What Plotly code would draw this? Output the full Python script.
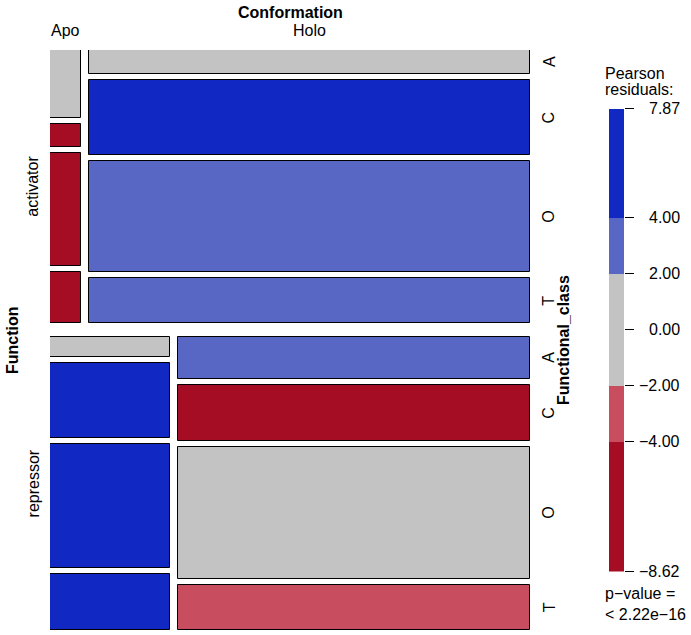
import plotly.graph_objects as go

# ---------------- data ----------------
functions = ["activator", "repressor"]
conformations = ["Apo", "Holo"]
classes = ["A", "C", "O", "T"]

# counts per Functional_class (A, C, O, T)
activator_apo = [12, 4, 20, 9]
activator_holo = [61, 190, 281, 114]
repressor_apo = [14, 51, 85, 38]
repressor_holo = [84, 113, 265, 91]

# Pearson residuals (estimated) per cell
activator_apo_res = [-1.3, -4.4, -6.9, -5.2]
activator_holo_res = [1.4, 7.87, 3.2, 2.7]
repressor_apo_res = [0.9, 6.6, 7.3, 5.8]
repressor_holo_res = [2.8, -8.62, 0.6, -2.6]

legend_breaks = [-8.62, -4.0, -2.0, 0.0, 2.0, 4.0, 7.87]
p_value_text = "< 2.22e\u221216"

# ---------------- style ----------------
W, H = 691, 635
FONT = "Liberation Sans"
C_DBLUE = "#1128C3"
C_MBLUE = "#5867C4"
C_GREY = "#C3C3C3"
C_LRED = "#C84E5F"
C_DRED = "#A50D25"


def shade(r):
    if r > 4:
        return C_DBLUE
    if r > 2:
        return C_MBLUE
    if r >= -2:
        return C_GREY
    if r >= -4:
        return C_LRED
    return C_DRED


# plot area in pixels
PX0, PX1 = 50, 530
PY0, PY1 = 50, 630
GAP_ROW = 13.4 / (PY1 - PY0)
GAP_COL = 8.5 / (PX1 - PX0)
GAP_CLASS = 5.8 / (PY1 - PY0)

counts = [[activator_apo, activator_holo], [repressor_apo, repressor_holo]]
resid = [[activator_apo_res, activator_holo_res], [repressor_apo_res, repressor_holo_res]]

total = sum(sum(c) for row in counts for c in row)
row_tot = [sum(sum(c) for c in row) for row in counts]

xs, ws, bases, hs, cols = [], [], [], [], []
row_centers, col_centers_first, right_label_y = [], [], []
avail_h = 1 - GAP_ROW * (len(functions) - 1)
y = 0.0
for i, row in enumerate(counts):
    rh = avail_h * row_tot[i] / total
    row_centers.append(y + rh / 2)
    avail_w = 1 - GAP_COL * (len(conformations) - 1)
    x = 0.0
    for j, cell in enumerate(row):
        cw = avail_w * sum(cell) / row_tot[i]
        if i == 0:
            col_centers_first.append(x + cw / 2)
        avail_c = rh - GAP_CLASS * (len(classes) - 1)
        yy = y
        for k, n in enumerate(cell):
            ch = avail_c * n / sum(cell)
            xs.append(x + cw / 2)
            ws.append(cw)
            bases.append(yy)
            hs.append(ch)
            cols.append(shade(resid[i][j][k]))
            if j == len(row) - 1:
                right_label_y.append((classes[k], yy + ch / 2))
            yy += ch + GAP_CLASS
        x += cw + GAP_COL
    y += rh + GAP_ROW

fig = go.Figure()
fig.add_trace(go.Bar(
    x=xs, y=hs, base=bases, width=ws,
    marker=dict(color=cols, line=dict(color="black", width=1)),
    xaxis="x", yaxis="y", showlegend=False, hoverinfo="skip",
))

# legend bar
lx, lb, lh, lc = [], [], [], []
for lo, hi in zip(legend_breaks[:-1], legend_breaks[1:]):
    mid = (lo + hi) / 2
    lx.append(0.5)
    lb.append(lo)
    lh.append(hi - lo)
    lc.append(shade(mid))
fig.add_trace(go.Bar(
    x=lx, y=lh, base=lb, width=[1] * len(lx),
    marker=dict(color=lc, line=dict(width=0)),
    xaxis="x2", yaxis="y2", showlegend=False, hoverinfo="skip",
))

LEG_X0, LEG_X1 = 609, 624
LEG_TOP, LEG_BOT = 108.6, 571.4


def px(v):
    return v / W


def py(v):
    return 1 - v / H


fig.update_layout(
    width=W, height=H,
    margin=dict(l=0, r=0, t=0, b=0),
    paper_bgcolor="white", plot_bgcolor="white",
    barmode="overlay", bargap=0,
    font=dict(family=FONT, size=16, color="black"),
    xaxis=dict(domain=[px(PX0), px(PX1)], range=[0, 1], visible=False, fixedrange=True),
    yaxis=dict(domain=[py(PY1), py(PY0)], range=[1, 0], visible=False, fixedrange=True),
    xaxis2=dict(domain=[px(LEG_X0), px(LEG_X1)], range=[0, 1], visible=False,
                anchor="y2", fixedrange=True),
    yaxis2=dict(domain=[py(LEG_BOT), py(LEG_TOP)], range=[legend_breaks[0], legend_breaks[-1]],
                anchor="x2", side="right", showgrid=False, zeroline=False, showline=False,
                ticks="outside", ticklen=9, tickwidth=1, tickcolor="black",
                tickvals=legend_breaks, showticklabels=False, fixedrange=True),
)

ann = []
# top title and column labels
ann.append(dict(text="<b>Conformation</b>", xref="paper", yref="paper",
                x=px((PX0 + PX1) / 2), y=py(12), showarrow=False,
                xanchor="center", yanchor="middle"))
for name, cx in zip(conformations, col_centers_first):
    ann.append(dict(text=name, xref="x", yref="paper", x=cx, y=py(31),
                    showarrow=False, xanchor="center", yanchor="middle"))
# left labels
ann.append(dict(text="<b>Function</b>", xref="paper", yref="paper",
                x=px(12), y=py((PY0 + PY1) / 2), textangle=-90, showarrow=False,
                xanchor="center", yanchor="middle"))
for name, cy in zip(functions, row_centers):
    ann.append(dict(text=name, xref="paper", yref="y", x=px(33), y=cy,
                    textangle=-90, showarrow=False, xanchor="center", yanchor="middle"))
# right labels
for name, cy in right_label_y:
    ann.append(dict(text=name, xref="paper", yref="y", x=px(549), y=cy,
                    textangle=-90, showarrow=False, xanchor="center", yanchor="middle"))
ann.append(dict(text="<b>Functional_class</b>", xref="paper", yref="paper",
                x=px(563), y=py((PY0 + PY1) / 2), textangle=-90, showarrow=False,
                xanchor="center", yanchor="middle"))
# legend texts
ann.append(dict(text="Pearson", xref="paper", yref="paper", x=px(603), y=py(73),
                showarrow=False, xanchor="left", yanchor="middle"))
ann.append(dict(text="residuals:", xref="paper", yref="paper", x=px(603), y=py(89),
                showarrow=False, xanchor="left", yanchor="middle"))
for v in legend_breaks:
    ann.append(dict(text=f"{v:.2f}".replace("-", "\u2212"), xref="paper", yref="y2",
                    x=px(682), y=v, showarrow=False, xanchor="right", yanchor="middle"))
ann.append(dict(text="p\u2212value =", xref="paper", yref="paper", x=px(603), y=py(593),
                showarrow=False, xanchor="left", yanchor="middle"))
ann.append(dict(text=p_value_text, xref="paper", yref="paper", x=px(603), y=py(614),
                showarrow=False, xanchor="left", yanchor="middle"))
fig.update_layout(annotations=ann)

fig.write_html(
    "out.html",
    config={"displayModeBar": False},
    post_script="document.body.style.margin='0';document.body.style.overflow='hidden';",
)
